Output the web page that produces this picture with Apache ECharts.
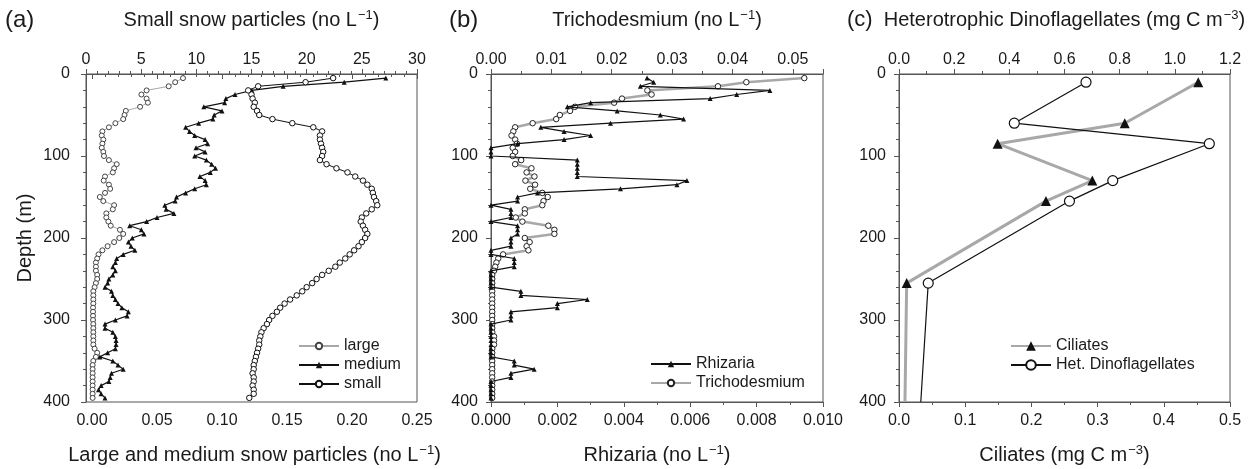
<!DOCTYPE html>
<html><head><meta charset="utf-8">
<script src="https://cdn.jsdelivr.net/npm/echarts@6/dist/echarts.min.js"></script>
<style>html,body{margin:0;padding:0;background:#fff}#c{width:1258px;height:469px}</style>
</head><body><div id="c"></div>
<script>
// ---------- data ----------
const depth = [5,10,15,20,25,30,35,40,45,50,
  55,60,65,70,75,80,85,90,95,100,
  105,110,115,120,125,130,135,140,145,150,
  155,160,165,170,175,180,185,190,195,200,
  205,210,215,220,225,230,235,240,245,250,
  255,260,265,270,275,280,285,290,295,300,
  305,310,315,320,325,330,335,340,345,350,
  355,360,365,370,375,380,385,390,395];

const snowSmall = [22.4,19.9,15.6,14.7,15.0,15.1,15.3,15.2,15.5,15.7,
  16.9,18.7,20.6,21.4,21.2,21.2,21.3,21.4,21.5,21.4,
  21.2,21.8,22.7,23.7,24.4,25.1,25.5,25.9,26.0,26.1,
  26.3,26.4,25.9,25.4,25.0,24.9,25.1,25.3,25.5,25.3,
  25.0,24.7,24.3,23.9,23.5,23.0,22.6,22.0,21.4,20.9,
  20.5,20.0,19.6,19.1,18.5,18.0,17.6,17.3,16.9,16.6,
  16.4,16.1,15.9,15.8,15.7,15.7,15.6,15.5,15.4,15.3,
  15.2,15.2,15.1,15.2,15.2,15.1,15.2,15.2,14.8];

const snowMedium = [0.226,0.194,0.147,0.123,0.110,0.103,0.102,0.086,0.100,0.094,
  0.093,0.082,0.072,0.075,0.079,0.087,0.089,0.080,0.087,0.079,
  0.088,0.092,0.095,0.091,0.083,0.087,0.088,0.079,0.072,0.065,
  0.064,0.056,0.057,0.063,0.050,0.042,0.029,0.038,0.040,0.031,
  0.028,0.030,0.033,0.024,0.019,0.018,0.016,0.018,0.016,0.013,
  0.012,0.010,0.015,0.016,0.018,0.020,0.023,0.028,0.027,0.018,
  0.010,0.010,0.016,0.018,0.0185,0.0185,0.018,0.012,0.006,0.016,
  0.020,0.024,0.015,0.014,0.013,0.007,0.005,0.007,0.010];

const snowLarge = [0.070,0.064,0.059,0.042,0.038,0.042,0.043,0.037,0.026,0.025,
  0.024,0.018,0.013,0.008,0.0075,0.0087,0.008,0.0075,0.0087,0.0092,
  0.013,0.019,0.017,0.016,0.010,0.009,0.013,0.014,0.010,0.006,
  0.0087,0.017,0.016,0.011,0.011,0.0126,0.0144,0.0215,0.024,0.021,
  0.017,0.012,0.008,0.005,0.004,0.003,0.003,0.003,0.004,0.004,
  0.003,0.002,0.001,0.001,0.001,0.001,0.0008,0.0008,0.0008,0.0008,
  0.001,0.001,0.001,0.001,0.001,0.001,0.002,0.004,0.003,0.001,
  0.0005,0.0005,0.0005,0.0005,0.0005,0.0005,0.0005,0.0005,0.0005];

const tricho = [0.0519,0.0423,0.0376,0.0259,0.0266,0.0217,0.0204,0.0139,0.0131,0.0114,
  0.0108,0.0069,0.0040,0.0037,0.0034,0.0040,0.0043,0.0036,0.0040,0.0036,
  0.0050,0.0040,0.0067,0.0059,0.0072,0.0057,0.0073,0.0065,0.0085,0.0094,
  0.0087,0.0085,0.0056,0.0056,0.0041,0.0052,0.0095,0.0105,0.0105,0.0056,
  0.0064,0.0059,0.0062,0.0020,0.0012,0.0009,0.0007,0.0005,0.0002,0.0002,
  0.0002,0.0002,0.0002,0.0002,0.0002,0.0002,0.0002,0.0002,0.0002,0.0002,
  0.0002,0.0002,0.0002,0.0005,0.0005,0.0005,0.0002,0.0002,0.0002,0.0002,
  0.0002,0.0002,0.0002,0.0002,0.0002,0.0002,0.0002,0.0002,0.0002];

const rhizaria = [0.0047,0.0049,0.0045,0.0084,0.0074,0.0066,0.0030,0.0023,0.0038,0.0051,
  0.0058,0.0036,0.0015,0.0022,0.0030,0.0022,0.0008,0,0,0,
  0.0026,0.0026,0.0026,0.0026,0.0026,0.0059,0.0056,0.0039,0.0014,0.0008,
  0.0008,0,0.0006,0.0006,0.0006,0,0.0008,0.0008,0.0008,0.0006,
  0.0006,0.0006,0,0,0.0007,0.0007,0.0007,0,0,0,
  0,0,0.0009,0.0009,0.0029,0.0020,0.0020,0.0006,0.0006,0.0006,
  0,0,0,0,0,0,0,0,0,0.0007,
  0.0007,0.0013,0.0006,0.0006,0,0,0,0,0];

const protDepth = [10,60,85,130,155,255,400];
const ciliates = [0.452,0.341,0.149,0.292,0.222,0.0116,0.009];
const dinoflag = [0.678,0.418,1.125,0.775,0.618,0.106,0.079];

const depthTicks = [0,100,200,300,400];

// ---------- styling ----------
const FONT = '"Liberation Sans", Arial, Helvetica, sans-serif';
const AX = '#555';
const TXT = '#1a1a1a';
const GRAY = '#a8a8a8';

function richName(main, sup, tail) {
  return '{t|' + main + '}{s|' + sup + '}{t|' + tail + '}';
}
const nameRich = {
  t: {fontSize: 20, fontFamily: FONT, color: TXT, lineHeight: 24},
  s: {fontSize: 13, fontFamily: FONT, color: TXT, verticalAlign: 'top', padding: [1, 0, 0, 1]}
};

function pairs(xs, ys, lastNoSymbol) {
  return xs.map((v, i) => {
    if (lastNoSymbol && i === xs.length - 1) return {value: [v, ys[i]], symbol: 'none'};
    return [v, ys[i]];
  });
}

function xAxis(gridIndex, position, min, max, interval, minorSplit, digits, name, opts) {
  return Object.assign({
    type: 'value', gridIndex, position, min, max, interval,
    name, nameLocation: 'middle', nameGap: position === 'top' ? 42 : 41,
    nameMoveOverlap: false,
    nameTextStyle: {rich: nameRich},
    axisLine: {show: true, lineStyle: {color: AX, width: 1}},
    axisTick: {show: true, inside: false, length: 5, lineStyle: {color: AX}},
    minorTick: {show: true, splitNumber: minorSplit, length: 3, lineStyle: {color: AX}},
    splitLine: {show: false},
    axisLabel: {
      fontSize: 16, fontFamily: FONT, color: TXT, margin: position === 'top' ? 6 : 11,
      formatter: v => (v > max + 1e-9 ? '' : v.toFixed(digits))
    }
  }, opts || {});
}

function yAxis(gridIndex, margin, show, name) {
  return {
    type: 'value', gridIndex, inverse: true, min: 0, max: 400, interval: 100,
    show: show,
    name: name || '', nameLocation: 'middle', nameGap: 51, nameRotate: 90,
    nameMoveOverlap: false,
    nameTextStyle: {fontSize: 20, fontFamily: FONT, color: TXT},
    axisLine: {show: true, lineStyle: {color: AX, width: 1}},
    axisTick: {show: true, inside: false, length: 5, lineStyle: {color: AX}},
    minorTick: {show: true, splitNumber: 5, length: 3, lineStyle: {color: AX}},
    splitLine: {show: false},
    axisLabel: {fontSize: 16, fontFamily: FONT, color: TXT, margin: margin,
      formatter: v => (depthTicks.indexOf(v) >= 0 ? String(v) : '')}
  };
}

const legendText = {fontSize: 16, fontFamily: FONT, color: TXT};

const gridBase = {outerBoundsMode: 'none', containLabel: false};

const option = {
  animation: false,
  backgroundColor: '#fff',
  grid: [
    Object.assign({left: 86, top: 74, width: 331, height: 328, show: true, borderColor: AX, borderWidth: 1, backgroundColor: 'transparent'}, gridBase),
    Object.assign({left: 92, top: 74, width: 325, height: 328, show: false}, gridBase),
    Object.assign({left: 491, top: 74, width: 332, height: 328, show: true, borderColor: AX, borderWidth: 1, backgroundColor: 'transparent'}, gridBase),
    Object.assign({left: 899, top: 74, width: 331, height: 328, show: true, borderColor: AX, borderWidth: 1, backgroundColor: 'transparent'}, gridBase)
  ],
  xAxis: [
    xAxis(0, 'top', 0, 30, 5, 5, 0, richName('Small snow particles (no L', '\u22121', ')')),
    xAxis(1, 'bottom', 0, 0.25, 0.05, 5, 2, richName('Large and medium snow particles (no L', '\u22121', ')')),
    xAxis(2, 'top', 0, 0.055, 0.01, 2, 2, richName('Trichodesmium (no L', '\u22121', ')'),
      {axisLabel: {fontSize: 16, fontFamily: FONT, color: TXT, margin: 6,
        formatter: v => (v > 0.0501 ? '' : v.toFixed(2))}}),
    xAxis(2, 'bottom', 0, 0.010, 0.002, 2, 3, richName('Rhizaria (no L', '\u22121', ')')),
    xAxis(3, 'top', 0, 1.2, 0.2, 2, 1, richName('Heterotrophic Dinoflagellates (mg C m', '\u22123', ')')),
    xAxis(3, 'bottom', 0, 0.5, 0.1, 2, 1, richName('Ciliates (mg C m', '\u22123', ')'))
  ],
  yAxis: [
    yAxis(0, 16, true, 'Depth (m)'),
    yAxis(1, 16, false),
    yAxis(2, 13, true),
    yAxis(3, 13, true)
  ],
  legend: [
    {data: ['large', 'medium', 'small'], orient: 'vertical', left: 293, top: 333,
      itemWidth: 40, itemHeight: 8, itemGap: 3, textStyle: legendText, selectedMode: false},
    {data: ['Rhizaria', 'Trichodesmium'], orient: 'vertical', left: 645, top: 351,
      itemWidth: 40, itemHeight: 8, itemGap: 3, textStyle: legendText, selectedMode: false},
    {data: ['Ciliates', 'Het. Dinoflagellates'], orient: 'vertical', left: 1005, top: 333,
      itemWidth: 40, itemHeight: 12, itemGap: 3, textStyle: legendText, selectedMode: false}
  ],
  graphic: [
    {type: 'text', left: 5, top: 8, style: {text: '(a)', fontSize: 24, fontFamily: FONT, fill: TXT}},
    {type: 'text', left: 449, top: 8, style: {text: '(b)', fontSize: 24, fontFamily: FONT, fill: TXT}},
    {type: 'text', left: 847, top: 9, style: {text: '(c)', fontSize: 22, fontFamily: FONT, fill: TXT}}
  ],
  series: [
    {name: 'large', type: 'line', xAxisIndex: 1, yAxisIndex: 1, data: pairs(snowLarge, depth),
      symbol: 'circle', symbolSize: 5, z: 2,
      lineStyle: {color: GRAY, width: 1}, itemStyle: {color: '#fff', borderColor: '#444', borderWidth: 1},
      emphasis: {disabled: true}},
    {name: 'medium', type: 'line', xAxisIndex: 1, yAxisIndex: 1, data: pairs(snowMedium, depth),
      symbol: 'triangle', symbolSize: 5, z: 3,
      lineStyle: {color: '#111', width: 1.2}, itemStyle: {color: '#111'},
      emphasis: {disabled: true}},
    {name: 'small', type: 'line', xAxisIndex: 0, yAxisIndex: 0, data: pairs(snowSmall, depth),
      symbol: 'circle', symbolSize: 5.5, z: 3,
      lineStyle: {color: '#111', width: 1}, itemStyle: {color: '#fff', borderColor: '#111', borderWidth: 1},
      emphasis: {disabled: true}},
    {name: 'Trichodesmium', type: 'line', xAxisIndex: 2, yAxisIndex: 2, data: pairs(tricho, depth),
      symbol: 'circle', symbolSize: 5.5, z: 2,
      lineStyle: {color: GRAY, width: 2.5}, itemStyle: {color: '#fff', borderColor: '#222', borderWidth: 1},
      emphasis: {disabled: true}},
    {name: 'Rhizaria', type: 'line', xAxisIndex: 3, yAxisIndex: 2, data: pairs(rhizaria, depth),
      symbol: 'triangle', symbolSize: 5, z: 3,
      lineStyle: {color: '#111', width: 1.2}, itemStyle: {color: '#111'},
      emphasis: {disabled: true}},
    {name: 'Ciliates', type: 'line', xAxisIndex: 5, yAxisIndex: 3, data: pairs(ciliates, protDepth, true),
      symbol: 'triangle', symbolSize: 10, z: 2,
      lineStyle: {color: GRAY, width: 3}, itemStyle: {color: '#111'},
      emphasis: {disabled: true}},
    {name: 'Het. Dinoflagellates', type: 'line', xAxisIndex: 4, yAxisIndex: 3, data: pairs(dinoflag, protDepth, true),
      symbol: 'circle', symbolSize: 10, z: 3,
      lineStyle: {color: '#111', width: 1.2}, itemStyle: {color: '#fff', borderColor: '#111', borderWidth: 1.2},
      emphasis: {disabled: true}}
  ]
};

const chart = echarts.init(document.getElementById('c'), null, {renderer: 'canvas'});
chart.setOption(option);
</script>
</body></html>
